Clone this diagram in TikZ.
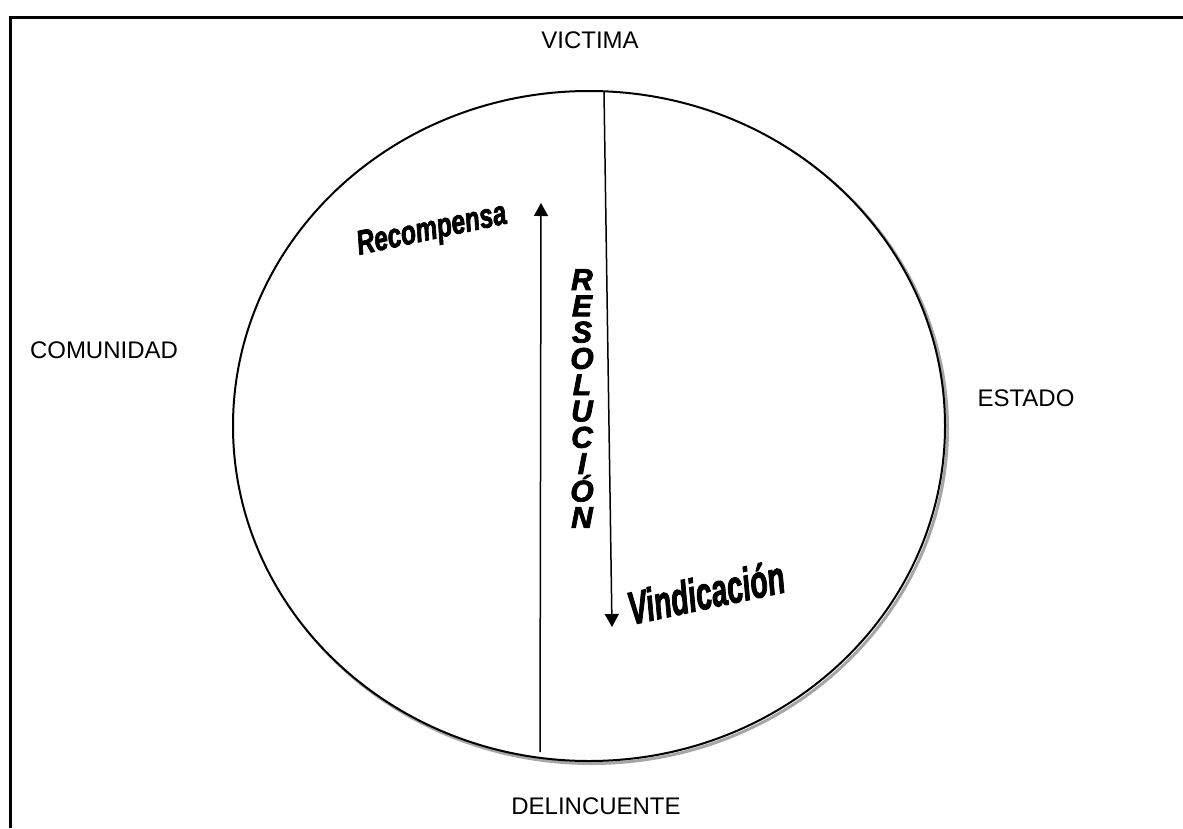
\documentclass[tikz,border=0pt]{standalone}
\usepackage{fontspec}
\setmainfont{Liberation Sans}
\newfontfamily\heavyfont[BoldItalicFeatures={FakeBold=2.5},ItalicFeatures={FakeBold=2.5}]{Liberation Sans}
\usetikzlibrary{arrows.meta,shapes.geometric}
\tikzset{
  lbl/.style={font=\fontsize{24}{28}\selectfont, inner sep=0pt},
  wa/.style={inner sep=0pt},
  arr/.style={line width=1.5pt, -{Triangle[width=14pt,length=13pt]}},
}
\newcommand{\wafont}[1]{\heavyfont\fontsize{#1}{#1}\selectfont\bfseries\itshape}
\begin{document}
\begin{tikzpicture}[x=1pt,y=-1pt]
\useasboundingbox (0,0) rectangle (1183,828);
% frame (top and left edges only)
\draw[line width=3pt] (10,828) -- (10,17) -- (1183,17);
% circle with shadow
\draw[line width=3pt, gray!70] (591.5,428.5) ellipse [x radius=356, y radius=335];
\node[draw, line width=2pt, fill=white, ellipse, minimum width=712pt, minimum height=670pt, inner sep=0pt] (circ) at (589,426) {};
% labels
\node[lbl] (victima) at (590,40) {VICTIMA};
\node[lbl] (comunidad) at (104,350) {COMUNIDAD};
\node[lbl] (estado) at (1026,398) {ESTADO};
\node[lbl] (delincuente) at (596,806) {DELINCUENTE};
% arrows
\coordinate (dtop) at (604,92);
\coordinate (dbot) at (612,627);
\coordinate (ubot) at (540,752);
\coordinate (utop) at (541,203);
\draw[arr] (dtop) -- (dbot);
\draw[arr] (ubot) -- (utop);
% WordArt-like texts
\node[wa, rotate=12] (recompensa) at (432,231) {\scalebox{0.72}[1]{\wafont{34}Recompensa}};
\node[wa, rotate=12] (vindicacion) at (706,592) {\scalebox{0.62}[1]{\wafont{46}Vindicación}};
\node[wa, align=center, font=\wafont{30}\setlength{\baselineskip}{26.3pt}] (resolucion) at (582,398.5)
  {R\\E\\S\\O\\L\\U\\C\\I\\Ó\\N};
\end{tikzpicture}
\end{document}
